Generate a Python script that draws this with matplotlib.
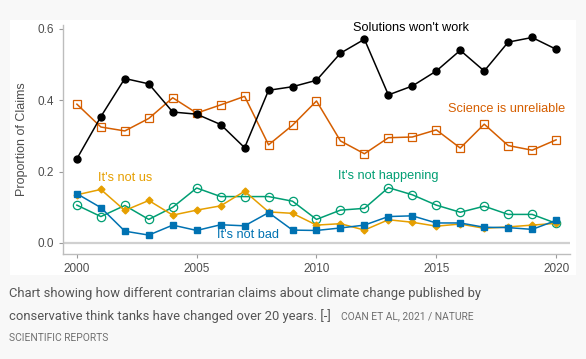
import matplotlib.pyplot as plt
from matplotlib.patches import Rectangle

years = list(range(2000, 2021))

solutions_wont_work = [0.236, 0.354, 0.461, 0.446, 0.367, 0.361, 0.332, 0.267, 0.428, 0.438,
                       0.456, 0.532, 0.571, 0.415, 0.440, 0.482, 0.540, 0.482, 0.563, 0.576, 0.543]
science_unreliable = [0.389, 0.325, 0.314, 0.349, 0.407, 0.364, 0.387, 0.411, 0.275, 0.330,
                      0.398, 0.286, 0.250, 0.295, 0.297, 0.317, 0.266, 0.333, 0.273, 0.260, 0.289]
not_us = [0.135, 0.150, 0.091, 0.119, 0.078, 0.092, 0.104, 0.145, 0.087, 0.083,
          0.050, 0.054, 0.036, 0.065, 0.058, 0.047, 0.053, 0.041, 0.045, 0.050, 0.055]
not_bad = [0.138, 0.099, 0.033, 0.022, 0.050, 0.035, 0.051, 0.048, 0.085, 0.036,
           0.035, 0.042, 0.050, 0.074, 0.076, 0.056, 0.056, 0.044, 0.043, 0.038, 0.063]
not_happening = [0.106, 0.074, 0.105, 0.066, 0.100, 0.154, 0.130, 0.130, 0.130, 0.117,
                 0.066, 0.092, 0.097, 0.155, 0.135, 0.106, 0.086, 0.103, 0.080, 0.080, 0.055]

plt.rcParams["font.family"] = ["Liberation Sans", "DejaVu Sans"]

W, H = 586, 359
fig = plt.figure(figsize=(W / 100, H / 100), dpi=100)
fig.patch.set_facecolor("#f8f8f8")

# white panel behind the chart
fig.patches.append(Rectangle((10 / W, 1 - 275 / H), 566 / W, 255 / H,
                             transform=fig.transFigure, facecolor="white",
                             edgecolor="none", zorder=-5))

ax = fig.add_axes([63 / W, 1 - 254 / H, (570 - 63) / W, (254 - 25) / H])
ax.set_facecolor("white")

ax.axhline(0, color="#d0d0d0", lw=1.6, zorder=1)

ax.plot(years, not_happening, color="#009E73", lw=1.1, marker="o", ms=6,
        mfc="none", mew=0.9, zorder=3)
ax.plot(years, not_us, color="#E69F00", lw=1.1, marker="D", ms=3.5, zorder=4)
ax.plot(years, not_bad, color="#0072B2", lw=1.1, marker="s", ms=4.5, zorder=4)
ax.plot(years, science_unreliable, color="#D55E00", lw=1.1, marker="s", ms=5.5,
        mfc="none", mew=0.9, zorder=3)
ax.plot(years, solutions_wont_work, color="black", lw=1.1, marker="o", ms=5, zorder=5)

lab = dict(fontsize=9.2, ha="center", va="center")
ax.text(2013.95, 0.603, "Solutions won't work", color="black", **lab)
ax.text(2017.95, 0.376, "Science is unreliable", color="#D55E00", **lab)
ax.text(2002.0, 0.182, "It's not us", color="#E69F00", **lab)
ax.text(2013.0, 0.188, "It's not happening", color="#009E73", **lab)
ax.text(2007.15, 0.022, "It's not bad", color="#0072B2", **lab)

ax.set_xlim(1999.42, 2020.58)
ax.set_ylim(-0.031, 0.611)
ax.set_xticks([2000, 2005, 2010, 2015, 2020])
ax.set_yticks([0.0, 0.2, 0.4, 0.6])
ax.set_yticklabels(["0.0", "0.2", "0.4", "0.6"])
ax.tick_params(colors="#9a9a9a", labelcolor="#4d4d4d", labelsize=8.5, length=3, width=0.8)
for s in ["top", "right"]:
    ax.spines[s].set_visible(False)
for s in ["left", "bottom"]:
    ax.spines[s].set_color("#bdbdbd")
    ax.spines[s].set_linewidth(1)
ax.set_ylabel("Proportion of Claims", fontsize=9, color="#4d4d4d")
ax.yaxis.set_label_coords(-(63 - 28) / (570 - 63), 0.5)

# caption
cap = dict(family=["Roboto", "DejaVu Sans"], color="#555555", va="center", fontsize=9.35)
fig.text(9 / W, 1 - 294 / H, "Chart showing how different contrarian claims about climate change published by", **cap)
t2 = fig.text(9 / W, 1 - 316 / H, "conservative think tanks have changed over 20 years. [-]", **cap)
src = dict(family=["Roboto", "DejaVu Sans"], color="#707070", va="center", fontsize=7.4)
fig.canvas.draw()
x_end = t2.get_window_extent().x1
fig.text((x_end + 10) / W, 1 - 316 / H, "COAN ET AL, 2021 / NATURE", **src)
fig.text(9 / W, 1 - 338 / H, "SCIENTIFIC REPORTS", **src)

fig.savefig("out.png", dpi=100, facecolor=fig.get_facecolor())
